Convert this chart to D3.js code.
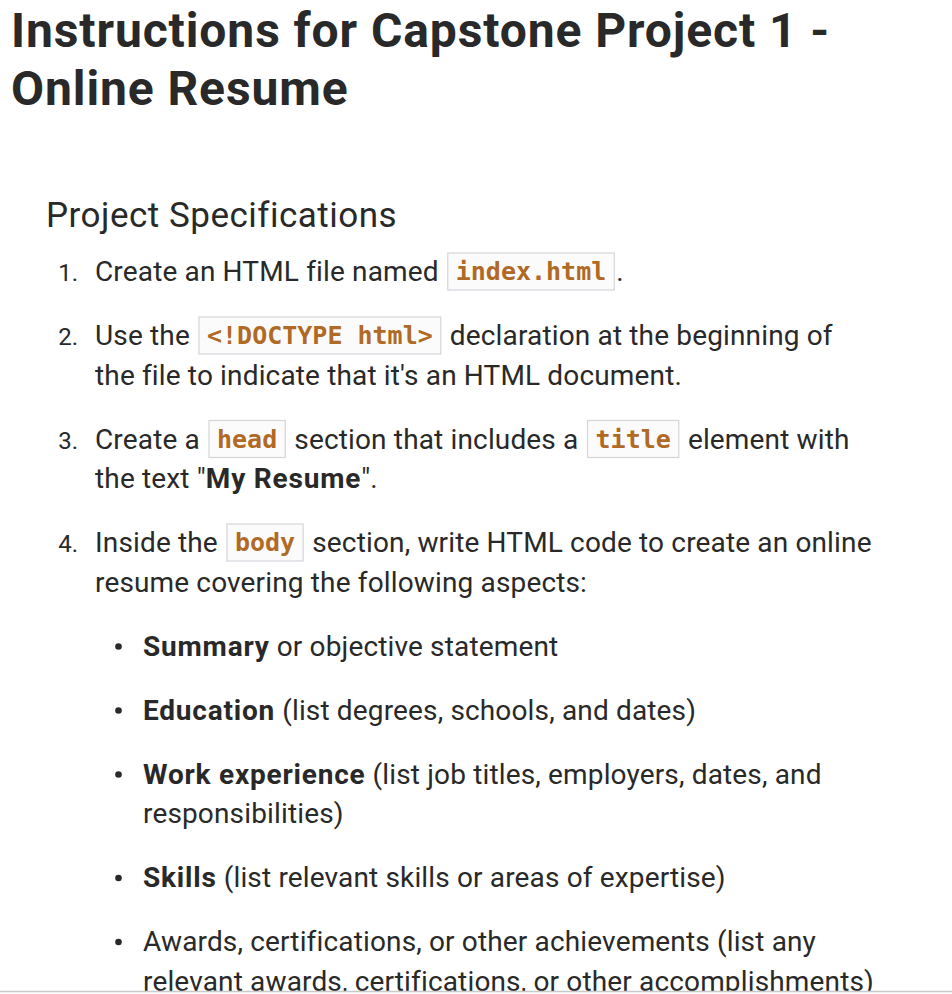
<!DOCTYPE html>
<html lang="en">
  <head>
    <meta charset="UTF-8" />
    <title>Instructions for Capstone Project 1 - Online Resume</title>
    <script src="https://d3js.org/d3.v7.min.js"></script>
    <style>
      html, body { margin: 0; padding: 0; background: #fff; }
      svg { display: block; }
      text { white-space: pre; }
      .body-text { font-family: Roboto, "Liberation Sans", sans-serif; fill: #292929; }
      .code-text { font-family: "DejaVu Sans Mono", monospace; font-weight: bold; fill: #b06a25; }
      .code-box { fill: #fbfbfb; stroke: #d3d6da; stroke-width: 1.2px; }
    </style>
  </head>
  <body>
    <svg width="952" height="994"></svg>
    <script>
      // page text, line breaks as in the picture
      const titleLines = ["Instructions for Capstone Project 1 -", "Online Resume"];
      const heading = "Project Specifications";
      const stepNumbers = ["1.", "2.", "3.", "4."];
      // each step: lines, each line: [text, kind]  (t = text, b = bold, c = code)
      const stepLines = [
        [[["Create an HTML file named ", "t"], ["index.html", "c"], [".", "t"]]],
        [
          [["Use the ", "t"], ["<!DOCTYPE html>", "c"], [" declaration at the beginning of", "t"]],
          [["the file to indicate that it's an HTML document.", "t"]]
        ],
        [
          [["Create a ", "t"], ["head", "c"], [" section that includes a ", "t"], ["title", "c"], [" element with", "t"]],
          [["the text \"", "t"], ["My Resume", "b"], ["\".", "t"]]
        ],
        [
          [["Inside the ", "t"], ["body", "c"], [" section, write HTML code to create an online", "t"]],
          [["resume covering the following aspects:", "t"]]
        ]
      ];
      const bulletLines = [
        [[["Summary", "b"], [" or objective statement", "t"]]],
        [[["Education", "b"], [" (list degrees, schools, and dates)", "t"]]],
        [
          [["Work experience", "b"], [" (list job titles, employers, dates, and", "t"]],
          [["responsibilities)", "t"]]
        ],
        [[["Skills", "b"], [" (list relevant skills or areas of expertise)", "t"]]],
        [
          [["Awards, certifications, or other achievements (list any", "t"]],
          [["relevant awards, certifications, or other accomplishments)", "t"]]
        ]
      ];

      const W = 952, H = 994;
      const svg = d3.select("svg");

      const bodySize = 28, codeSize = 25;
      const lineStep = 39.5, itemGap = 64;

      // title
      svg.selectAll(".title")
        .data(titleLines)
        .enter()
        .append("text")
        .attr("class", "body-text title")
        .attr("x", 11)
        .attr("y", (d, i) => 47 + i * 58)
        .attr("font-size", 48)
        .attr("font-weight", 700)
        .attr("letter-spacing", 0.9)
        .text((d) => d);

      svg.append("text")
        .attr("class", "body-text")
        .attr("x", 46)
        .attr("y", 227)
        .attr("font-size", 35)
        .attr("letter-spacing", 0.5)
        .text(heading);

      // draws one line made of segments starting at x0, baseline y
      function drawLine(segs, x0, y) {
        let x = x0;
        segs.forEach(([txt, kind]) => {
          if (kind === "c") {
            x += 2;
            const box = svg.append("rect").attr("class", "code-box");
            const t = svg.append("text")
              .attr("class", "code-text")
              .attr("font-size", codeSize)
              .attr("x", x + 8)
              .attr("y", y - 1)
              .text(txt);
            const w = t.node().getComputedTextLength();
            box.attr("x", x).attr("y", y - 28).attr("width", w + 16).attr("height", 37);
            x += w + 16 + 2;
          } else {
            const t = svg.append("text")
              .attr("class", "body-text")
              .attr("font-size", bodySize)
              .attr("font-weight", kind === "b" ? 700 : 400)
              .attr("letter-spacing", kind === "b" ? 0.8 : 0.15)
              .attr("x", x)
              .attr("y", y)
              .text(txt);
            x += t.node().getComputedTextLength();
          }
        });
      }

      let y = 281;
      stepLines.forEach((lines, i) => {
        svg.append("text")
          .attr("class", "body-text")
          .attr("font-size", 24)
          .attr("text-anchor", "end")
          .attr("x", 78)
          .attr("y", y)
          .text(stepNumbers[i]);
        lines.forEach((segs, j) => drawLine(segs, 95, y + j * lineStep));
        y += (lines.length - 1) * lineStep + itemGap;
      });

      bulletLines.forEach((lines) => {
        svg.append("circle")
          .attr("cx", 118.5)
          .attr("cy", y - 9)
          .attr("r", 3.3)
          .attr("fill", "#292929");
        lines.forEach((segs, j) => drawLine(segs, 143, y + j * lineStep));
        y += (lines.length - 1) * lineStep + itemGap;
      });

      // cut-off edge at the bottom
      svg.append("rect").attr("x", 0).attr("y", 991).attr("width", W).attr("height", H - 991).attr("fill", "#fff");
      svg.append("line")
        .attr("x1", 0).attr("x2", W)
        .attr("y1", 991.5).attr("y2", 991.5)
        .attr("stroke", "#c9c9c9")
        .attr("stroke-width", 1.5);
    </script>
  </body>
</html>
